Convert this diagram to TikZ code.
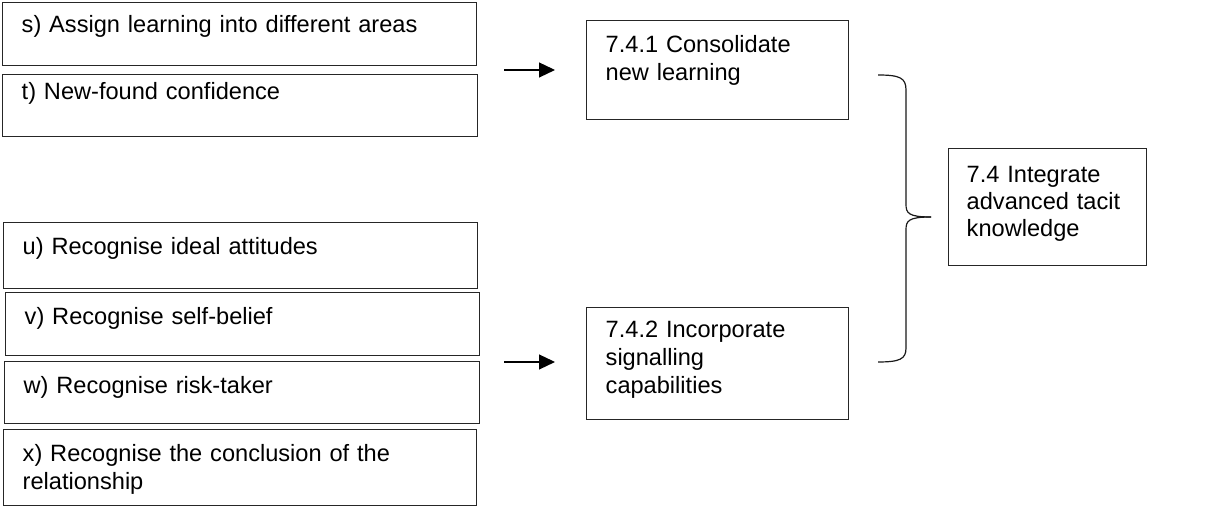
\documentclass[tikz,border=0pt]{standalone}
\usepackage{fontspec}
\setmainfont{Liberation Sans}
\usetikzlibrary{arrows.meta}

\tikzset{
  box/.style={draw=black!85, line width=0.7pt, anchor=north west, align=left,
    inner ysep=0pt, inner xsep=9.5pt, font=\fontsize{11.8}{14}\selectfont},
  % minimum width, text width, text height (top to first baseline), text depth
  dims/.style n args={4}{minimum width=#1, text width=#2, text height=#3, text depth=#4},
  link/.style={-{Triangle[length=8pt,width=7.5pt]}, line width=0.6pt, black},
  bracket/.style={line width=0.6pt, black!90}
}

\begin{document}
\begin{tikzpicture}[x=0.5pt, y=-0.5pt]
  \useasboundingbox (0,0) rectangle (1211,506);

  % left-hand input boxes
  \node[box, dims={237pt}{218pt}{15pt}{16.5pt}] (s) at (2,2)
    {s) Assign learning into different areas};
  \node[box, dims={237.5pt}{218.5pt}{12.5pt}{18.5pt}] (t) at (2,74)
    {t) New-found confidence};

  \node[box, dims={237pt}{218pt}{16pt}{17pt}] (u) at (3,222)
    {u) Recognise ideal attitudes};
  \node[box, dims={237pt}{218pt}{16pt}{15.5pt}] (v) at (5,292)
    {v) Recognise self-belief};
  \node[box, dims={237.5pt}{218.5pt}{16pt}{15pt}] (w) at (4,361)
    {w) Recognise risk-taker};
  \node[box, dims={236.5pt}{217.5pt}{16pt}{22pt}] (x) at (3,429)
    {x) Recognise the conclusion of the\\relationship};

  % middle boxes
  \node[box, dims={131pt}{112pt}{16pt}{33.5pt}] (c1) at (586,20)
    {7.4.1 Consolidate\\new learning};
  \node[box, dims={131pt}{112pt}{15pt}{41pt}] (c2) at (586,307)
    {7.4.2 Incorporate\\signalling\\capabilities};

  % right-hand box
  \node[box, inner xsep=9pt, dims={99pt}{81pt}{17pt}{41.5pt},
        font=\fontsize{11.8}{13.5}\selectfont] (top) at (948,148)
    {7.4 Integrate\\advanced tacit\\knowledge};

  % arrows
  \coordinate (a1s) at (504,70);
  \coordinate (a1e) at (555,70);
  \coordinate (a2s) at (504,362);
  \coordinate (a2e) at (555,362);
  \draw[link] (a1s) -- (a1e);
  \draw[link] (a2s) -- (a2e);

  % curly bracket joining the two middle boxes
  \coordinate (brtop) at (878,75);
  \coordinate (brtip) at (931,217);
  \coordinate (brbot) at (878,362);
  \draw[bracket] (brtop) .. controls (900,75) and (906,78) .. (906,90)
    -- (906,204) .. controls (906,213) and (908,217) .. (brtip);
  \draw[bracket] (brtip) .. controls (908,217) and (906,221) .. (906,230)
    -- (906,348) .. controls (906,359) and (900,362) .. (brbot);
\end{tikzpicture}
\end{document}
